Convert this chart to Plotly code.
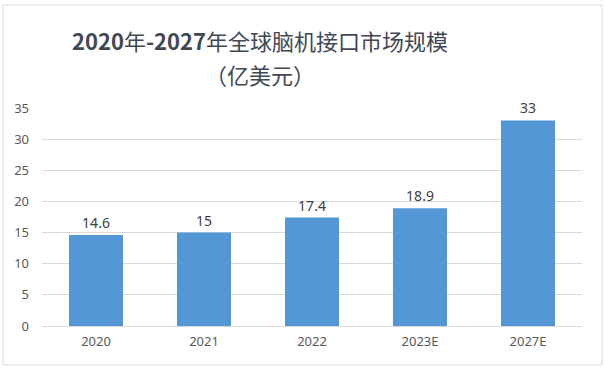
import plotly.graph_objects as go

categories = ["2020", "2021", "2022", "2023E", "2027E"]
values = [14.6, 15, 17.4, 18.9, 33]
value_labels = ["14.6", "15", "17.4", "18.9", "33"]
y_ticks = [0, 5, 10, 15, 20, 25, 30, 35]

W, H = 606, 370
ML, MR, MT, MB = 42, 24, 108, 44
plot_h = H - MT - MB
plot_w = W - ML - MR

def py(pix):
    return (H - MB - pix) / plot_h

def px(pix):
    return (pix - ML) / plot_w

fig = go.Figure()
fig.add_trace(go.Bar(
    x=categories, y=values,
    text=value_labels, textposition="outside",
    textfont=dict(family="Noto Sans, Open Sans, sans-serif", size=14, color="#404040"),
    marker=dict(color="#5397D6", line=dict(width=0)),
    cliponaxis=False,
))

title_font = dict(size=22, color="#404854", family="Noto Sans CJK SC, Noto Sans, sans-serif")

fig.update_layout(
    width=W, height=H,
    margin=dict(l=ML, r=MR, t=MT, b=MB),
    paper_bgcolor="white", plot_bgcolor="white",
    bargap=0.5,
    showlegend=False,
    font=dict(family="Noto Sans CJK SC, Noto Sans, sans-serif", color="#595959"),
    xaxis=dict(
        tickfont=dict(size=13, color="#595959", family="Noto Sans, sans-serif"),
        showline=False, showgrid=False, ticks="", ticklabelstandoff=6,
    ),
    yaxis=dict(
        range=[0, 35], tickvals=y_ticks,
        tickfont=dict(size=13, color="#595959", family="Noto Sans, sans-serif"),
        showgrid=True, gridcolor="#D9D9D9", gridwidth=1,
        zeroline=True, zerolinecolor="#D9D9D9", zerolinewidth=1,
        ticks="", ticklabelstandoff=12,
    ),
    annotations=[
        dict(text="<b>2020</b>年<b>-2027</b>年全球脑机接口市场规模", x=px(260), y=py(40),
             xref="paper", yref="paper", showarrow=False, xanchor="center", yanchor="middle",
             font=title_font),
        dict(text="（亿美元）", x=px(260), y=py(74),
             xref="paper", yref="paper", showarrow=False, xanchor="center", yanchor="middle",
             font=title_font),
    ],
    shapes=[dict(type="rect", xref="paper", yref="paper",
                 x0=px(3), x1=px(602), y0=py(365), y1=py(5),
                 line=dict(color="#D9D9D9", width=1), layer="below")],
)

fig.write_html("out.html", config={"displayModeBar": False},
               post_script="document.body.style.margin='0px';")
